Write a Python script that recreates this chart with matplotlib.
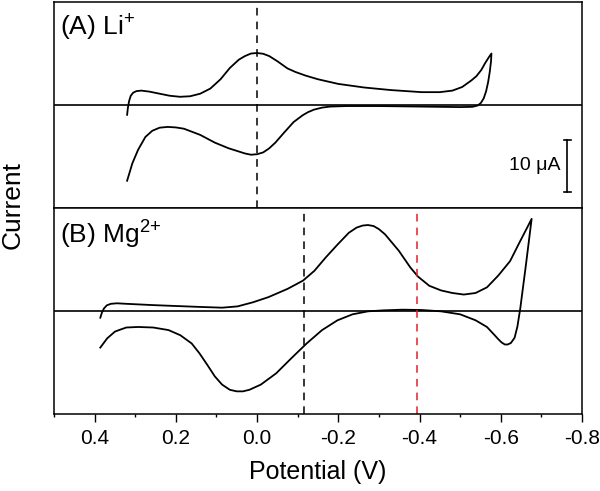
import matplotlib
matplotlib.use("Agg")
import matplotlib.pyplot as plt

plt.rcParams['font.family'] = ['Liberation Sans', 'DejaVu Sans']
plt.rcParams['mathtext.default'] = 'regular'

# ---- Panel A (Li+) cyclic voltammogram: potential (V) and current (uA) ----
li_E = [0.320, 0.318, 0.315, 0.311, 0.305, 0.297, 0.285, 0.265, 0.240, 0.215,
        0.190, 0.165, 0.140, 0.115, 0.090, 0.067, 0.045, 0.030, 0.015, 0.000,
        -0.015, -0.030, -0.050, -0.075, -0.095, -0.120, -0.150, -0.200, -0.264, -0.330,
        -0.405, -0.450, -0.481, -0.505, -0.528, -0.540, -0.552, -0.562, -0.570, -0.577,
        -0.576, -0.573, -0.569, -0.564, -0.558, -0.551, -0.543, -0.530, -0.500, -0.400,
        -0.300, -0.220, -0.180, -0.160, -0.140, -0.125, -0.112, -0.090, -0.066, -0.045,
        -0.030, -0.015, 0.000, 0.015, 0.030, 0.050, 0.070, 0.104, 0.140, 0.180,
        0.200, 0.220, 0.240, 0.258, 0.275, 0.293, 0.307, 0.320]
li_I = [-1.9, -0.5, 0.8, 1.8, 2.4, 2.7, 2.8, 2.6, 2.2, 1.8,
        1.6, 1.7, 2.2, 3.2, 5.0, 7.2, 8.8, 9.5, 10.0, 10.1,
        9.95, 9.5, 8.5, 7.1, 6.4, 5.7, 5.0, 4.1, 3.4, 2.9,
        2.5, 2.5, 2.8, 3.5, 4.8, 5.6, 6.8, 8.2, 9.2, 10.0,
        8.5, 6.5, 4.5, 2.7, 1.3, 0.4, -0.1, -0.35, -0.4, -0.3,
        -0.2, -0.2, -0.3, -0.5, -0.9, -1.4, -2.0, -3.3, -5.4, -7.3,
        -8.4, -9.2, -9.55, -9.65, -9.4, -8.9, -8.4, -7.3, -5.8, -4.6,
        -4.35, -4.25, -4.4, -5.0, -6.2, -8.7, -11.3, -14.7]

# ---- Panel B (Mg2+) ----
mg_E = [0.386, 0.382, 0.377, 0.370, 0.360, 0.345, 0.322, 0.256, 0.208, 0.142,
        0.086, 0.048, 0.010, -0.028, -0.075, -0.113, -0.141, -0.169, -0.198, -0.226,
        -0.245, -0.260, -0.273, -0.287, -0.300, -0.315, -0.332, -0.349, -0.377, -0.396,
        -0.424, -0.453, -0.481, -0.509, -0.538, -0.566, -0.594, -0.623, -0.646, -0.665,
        -0.676,
        -0.662, -0.648, -0.641, -0.634, -0.625, -0.617, -0.610, -0.602, -0.593, -0.585,
        -0.566, -0.538, -0.500, -0.453, -0.405, -0.358, -0.311, -0.273, -0.235, -0.198,
        -0.160, -0.122, -0.084, -0.047, -0.009, 0.019, 0.035, 0.050, 0.067, 0.086,
        0.104, 0.123, 0.142, 0.161, 0.189, 0.218, 0.256, 0.293, 0.322, 0.340,
        0.350, 0.369, 0.386]
mg_I = [-1.3, -0.3, 0.5, 1.1, 1.4, 1.5, 1.4, 1.15, 1.0, 0.8,
        0.65, 0.9, 1.7, 2.7, 4.3, 5.9, 7.8, 10.4, 12.9, 15.2,
        16.2, 16.6, 16.7, 16.5, 15.9, 14.9, 13.3, 11.7, 8.5, 6.7,
        4.9, 4.0, 3.5, 3.2, 3.5, 4.6, 6.9, 9.7, 13.3, 16.2,
        17.9,
        9.0, 0.5, -3.0, -5.2, -6.2, -6.5, -6.5, -6.1, -5.4, -4.7,
        -3.1, -1.8, -0.64, -0.06, 0.2, 0.26, 0.13, -0.06, -0.64, -1.8,
        -3.7, -6.3, -9.2, -12.1, -14.3, -15.3, -15.6, -15.6, -15.3, -14.3,
        -12.7, -10.4, -8.2, -6.3, -4.7, -3.7, -3.2, -3.1, -3.2, -3.7,
        -4.0, -5.3, -7.1]

li_dashed = [0.0]
mg_dashed_black = [-0.115]
mg_dashed_red = [-0.394]

x_ticks = [0.4, 0.2, 0.0, -0.2, -0.4, -0.6, -0.8]
x_ticklabels = ['0.4', '0.2', '0.0', '-0.2', '-0.4', '-0.6', '-0.8']
minor_ticks = [0.5, 0.3, 0.1, -0.1, -0.3, -0.5, -0.7]

scale_E = -0.764
scale_I = [-6.8, -16.8]

fig = plt.figure(figsize=(6.0, 4.91), dpi=100)
L, W = 0.09, 0.88
axA = fig.add_axes([L, 0.5763, W, 0.4196])
axB = fig.add_axes([L, 0.1568, W, 0.4195])

lw_frame = 1.1
for ax in (axA, axB):
    ax.set_xlim(0.5, -0.8)
    ax.set_ylim(-20, 20)
    ax.set_yticks([])
    for s in ax.spines.values():
        s.set_linewidth(lw_frame)
    ax.axhline(0, color='black', lw=1.2)

axA.plot(li_E, li_I, color='black', lw=1.3, solid_joinstyle='round')
for e in li_dashed:
    axA.axvline(e, color='black', lw=1.1, ls=(0, (5, 4)))
axA.set_xticks([])
axA.text(0.012, 0.875, '(A) Li$^{+}$', transform=axA.transAxes, fontsize=19,
         ha='left', va='center')
# scale bar
axA.plot([scale_E, scale_E], scale_I, color='black', lw=1.2)
for yy in scale_I:
    axA.plot([scale_E + 0.008, scale_E - 0.008], [yy, yy], color='black', lw=1.2)
axA.text(scale_E + 0.016, (scale_I[0] + scale_I[1]) / 2, '10 μA', fontsize=14,
         ha='right', va='center')

axB.plot(mg_E, mg_I, color='black', lw=1.3, solid_joinstyle='round')
for e in mg_dashed_black:
    axB.axvline(e, color='black', lw=1.1, ls=(0, (5, 4)))
for e in mg_dashed_red:
    axB.axvline(e, color='#e0202a', lw=1.1, ls=(0, (5, 4)))
axB.text(0.012, 0.87, '(B) Mg$^{2{+}}$', transform=axB.transAxes, fontsize=19,
         ha='left', va='center')
axB.set_xticks(x_ticks)
axB.set_xticklabels(x_ticklabels, fontsize=15)
axB.set_xticks(minor_ticks, minor=True)
axB.tick_params(axis='x', which='major', direction='out', length=5.5, width=1.0, pad=5)
axB.tick_params(axis='x', which='minor', direction='out', length=2.5, width=1.0)
axB.set_xlabel('Potential (V)', fontsize=18, labelpad=9)

fig.text(0.021, 0.583, 'Current', rotation=90, fontsize=19, ha='center', va='center')

fig.savefig('out.png', dpi=100)
